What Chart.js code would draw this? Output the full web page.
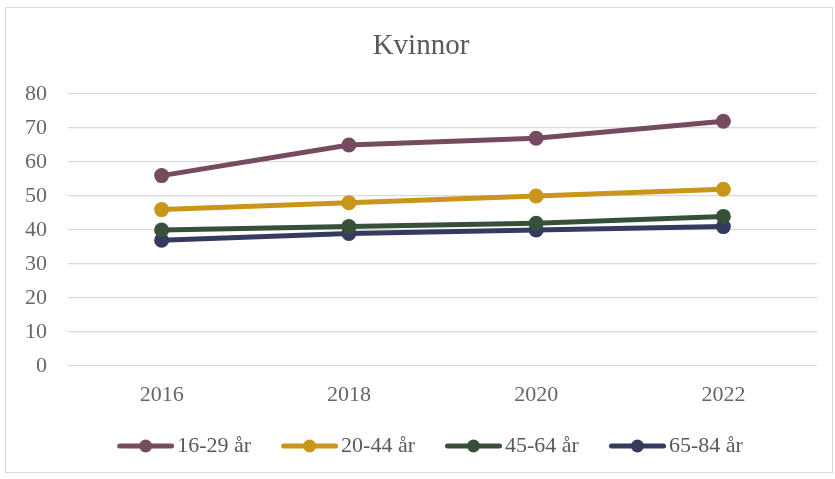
<!DOCTYPE html>
<html><head><meta charset="utf-8">
<script src="https://cdn.jsdelivr.net/npm/chart.js@4/dist/chart.umd.min.js"></script>
<style>
html,body{margin:0;padding:0;background:#fff;}
#wrap{position:relative;width:835px;height:479px;}
#frame{position:absolute;left:5px;top:7px;width:828px;height:466px;border:1px solid #d9d9d9;box-sizing:border-box;pointer-events:none;}
canvas{position:absolute;left:0;top:0;}
</style></head>
<body><div id="wrap"><canvas id="c" width="835" height="479"></canvas><div id="frame"></div></div>
<script>
const categories = ['2016','2018','2020','2022'];
const seriesNames = ['16-29 år','20-44 år','45-64 år','65-84 år'];
const s1629 = [56,65,67,72];
const s2044 = [46,48,50,52];
const s4564 = [40,41,42,44];
const s6584 = [37,39,40,41];
const colors = ['#764a5f','#c9951b','#37503a','#373a5f'];
const yTicks = [0,10,20,30,40,50,60,70,80];

const BOXW = 67;
function legendIcon(color){
  const w = BOXW + 16;
  const c=document.createElement('canvas');c.width=w;c.height=16;
  const x=c.getContext('2d');
  x.strokeStyle=color;x.lineWidth=5;x.lineCap='round';
  x.beginPath();x.moveTo(w-54.5,8);x.lineTo(w-2.5,8);x.stroke();
  x.fillStyle=color;x.beginPath();x.arc(w-28.5,8,6.5,0,Math.PI*2);x.fill();
  return c;
}
const values=[s1629,s2044,s4564,s6584];
const datasets=values.map((v,i)=>({
  label:seriesNames[i],data:v,borderColor:colors[i],backgroundColor:colors[i],
  borderWidth:5,pointRadius:7.5,pointHoverRadius:7.5,pointBorderWidth:0,
  pointStyle:'circle',tension:0
}));
const icons = colors.map(legendIcon);
const font='"Liberation Serif", "DejaVu Serif", serif';
new Chart(document.getElementById('c'),{
  type:'line',
  data:{labels:categories,datasets:datasets},
  options:{
    responsive:false,animation:false,
    layout:{padding:{top:9,left:25,right:18,bottom:12}},
    plugins:{
      title:{display:true,text:'Kvinnor',color:'#595959',font:{family:font,size:29,weight:'normal',lineHeight:1.2},padding:{top:19.6,bottom:30.6}},
      legend:{position:'bottom',labels:{
        usePointStyle:true,pointStyleWidth:BOXW,color:'#595959',font:{family:font,size:22},padding:12,
        generateLabels:(chart)=>chart.data.datasets.map((d,i)=>({text:d.label,pointStyle:icons[i],fillStyle:d.borderColor,strokeStyle:d.borderColor,lineWidth:0,fontColor:'#595959',datasetIndex:i,hidden:false}))
      }},
      tooltip:{enabled:false}
    },
    scales:{
      x:{offset:true,grid:{display:false,drawTicks:false},border:{display:false},
        afterFit:(s)=>{s.height=57;},
        ticks:{color:'#666666',font:{family:font,size:22,lineHeight:1.2},padding:16}},
      y:{min:0,max:80,afterBuildTicks:(s)=>{s.ticks=yTicks.map(v=>({value:v}));},
        afterFit:(s)=>{s.width=43;},
        grid:{color:'#d9d9d9',lineWidth:1.3,drawTicks:false},border:{display:false},
        ticks:{color:'#666666',font:{family:font,size:22},padding:21}}
    }
  }
});
</script></body></html>
